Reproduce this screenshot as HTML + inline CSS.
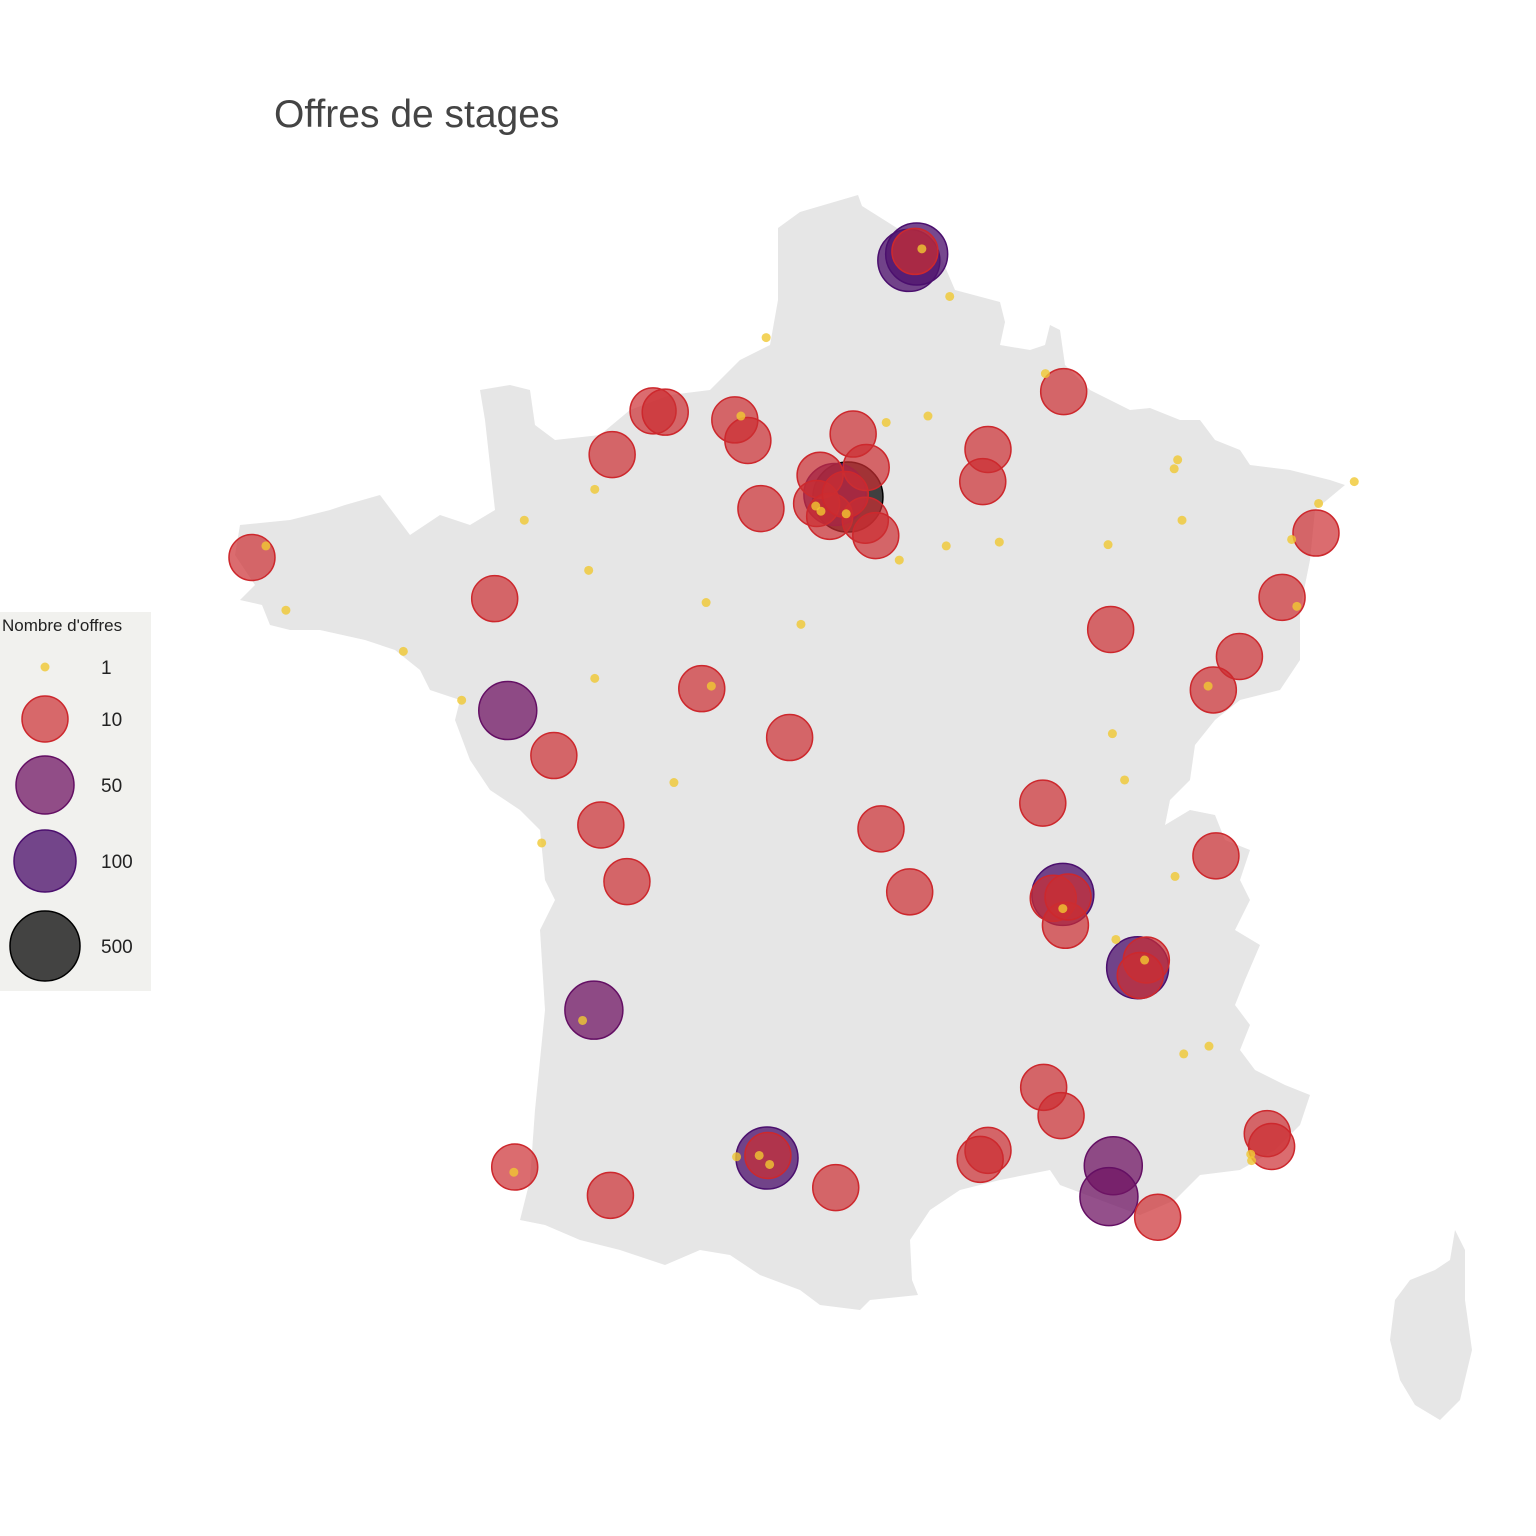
<!DOCTYPE html>
<html><head><meta charset="utf-8"><style>
html,body{margin:0;padding:0;background:#fff;}
svg{display:block;font-family:"Liberation Sans",sans-serif;}
</style></head><body>
<svg id="chart" width="1536" height="1536" viewBox="0 0 1536 1536">
<text x="274" y="127" font-size="39" fill="#444">Offres de stages</text>
<path fill="#e6e6e6" d="M778,228 L800,212 L858,195 L862,206 L900,230 L940,255 L955,290 L985,298 L1000,302 L1005,322 L1000,345 L1030,350 L1045,345 L1050,325 L1060,330 L1065,365 L1090,390 L1110,400 L1130,410 L1150,408 L1180,420 L1200,420 L1215,440 L1240,450 L1250,465 L1290,470 L1330,480 L1345,485 L1315,510 L1310,560 L1300,610 L1300,660 L1280,690 L1240,700 L1215,720 L1195,745 L1190,780 L1170,800 L1165,825 L1190,810 L1215,815 L1225,840 L1250,850 L1240,880 L1250,900 L1235,930 L1260,945 L1245,980 L1235,1005 L1250,1025 L1240,1050 L1255,1070 L1285,1085 L1310,1095 L1300,1125 L1275,1150 L1240,1170 L1200,1175 L1175,1200 L1140,1215 L1100,1200 L1060,1185 L1050,1170 L1000,1180 L960,1190 L930,1210 L910,1240 L912,1280 L918,1295 L870,1300 L860,1310 L820,1305 L800,1290 L760,1275 L730,1255 L700,1250 L665,1265 L620,1250 L580,1240 L545,1225 L520,1220 L530,1180 L535,1110 L545,1010 L540,930 L555,900 L545,880 L540,830 L520,810 L490,790 L470,760 L455,720 L460,700 L430,690 L420,670 L395,650 L365,640 L320,630 L290,630 L270,625 L262,605 L240,600 L255,585 L235,555 L240,525 L290,520 L330,510 L345,505 L380,495 L410,535 L440,515 L470,525 L495,510 L485,420 L480,390 L510,385 L530,390 L535,425 L555,440 L600,435 L630,410 L670,395 L710,390 L740,360 L770,345 L778,300 Z"/>
<path fill="#e6e6e6" d="M1455,1230 L1465,1250 L1465,1300 L1472,1350 L1460,1400 L1440,1420 L1415,1405 L1400,1380 L1390,1340 L1395,1300 L1410,1280 L1435,1270 L1450,1260 Z"/>
<g id="bubbles"></g>
<g id="legend">
<rect x="0" y="612" width="151" height="379" fill="#f1f1ee"/>
<text x="2" y="631" font-size="17" fill="#222">Nombre d'offres</text>
</g>
</svg>
<script>
const lon = [0.15,0.29,1.09,1.24,-0.32,2.45,2.60,2.07,1.39,2.03,2.18,2.59,2.71,2.36,4.00,3.94,4.87,-4.46,-1.67,7.77,7.38,5.41,6.89,6.59,0.71,1.72,-0.99,4.63,-0.45,2.77,-0.15,6.62,3.10,4.75,4.89,4.92,5.82,5.75,4.64,4.84,4.00,3.91,7.21,7.26,-1.44,-0.34,2.25,5.95,3.16,1.47,
 3.09,3.18,-1.52,-0.53,1.46,4.86,5.72,5.44,5.39,2.24,2.39,
 3.24,3.56,1.45,4.66,3.31,2.83,1.16,6.18,6.14,8.21,7.80,-0.52,-1.33,6.23,5.38,4.13,3.52,2.98,-4.30,7.49,-0.59,0.76,7.55,-4.07,1.85,-2.72,-0.52,0.82,6.53,-2.05,5.43,0.39,5.57,-1.13,6.15,4.86,5.47,5.80,-0.66,6.25,6.54,1.11,1.37,1.49,7.02,7.03,-1.45,2.02,2.08,2.37];
const lat = [49.38,49.37,49.31,49.15,49.04,49.20,48.94,48.88,48.62,48.66,48.56,48.53,48.41,48.73,49.08,48.83,49.53,48.24,47.92,48.43,47.93,47.68,47.47,47.21,47.22,46.84,46.70,46.33,46.16,46.13,45.72,45.92,45.64,45.59,45.38,45.60,45.11,44.99,44.12,43.90,43.63,43.56,43.76,43.66,43.50,43.28,43.34,43.11,50.62,43.59,
 50.55,50.60,47.05,44.72,43.57,45.62,45.05,43.51,43.27,48.73,48.71,
 50.64,50.27,49.95,49.67,49.34,49.29,49.34,49.00,48.93,48.83,48.66,48.77,48.53,48.53,48.34,48.36,48.33,48.22,48.33,48.38,48.14,47.89,47.86,47.83,47.72,47.51,47.30,47.24,47.24,47.13,46.87,46.49,46.51,46.02,45.76,45.51,45.27,45.11,44.64,44.38,44.44,43.58,43.59,43.52,43.60,43.55,43.46,48.64,48.60,48.58];
const offers = [10,10,10,10,10,10,10,10,10,10,10,10,10,10,10,10,10,10,10,10,10,10,10,10,10,10,10,10,10,10,10,10,10,10,10,10,10,10,10,10,10,10,10,10,10,10,10,10,10,10,
 100,100,50,50,100,100,100,50,50,100,500,
 1,1,1,1,1,1,1,1,1,1,1,1,1,1,1,1,1,1,1,1,1,1,1,1,1,1,1,1,1,1,1,1,1,1,1,1,1,1,1,1,1,1,1,1,1,1,1,1,1,1];
const legendValues = [1,10,50,100,500];
const legendLabels = ["1","10","50","100","500"];

const NS = "http://www.w3.org/2000/svg";
function xScale(lo){ return 640 + 87*lo; }
function yScale(la){ return 254 + 128.6*(50.6 - la); }
function rScale(v){
  const b=[1,10,50,100,500], r=[4.5,23,29,31,35];
  if(v<=1) return r[0];
  for(let i=1;i<b.length;i++){ if(v<=b[i]){ const t=(v-b[i-1])/(b[i]-b[i-1]); return r[i-1]+t*(r[i]-r[i-1]); } }
  return r[4];
}
function style(v){
  if(v<5) return {fill:"rgb(240,200,50)",stroke:"rgb(240,200,50)",op:0.8};
  if(v<30) return {fill:"rgb(204,45,50)",stroke:"rgb(205,40,45)",op:0.7};
  if(v<75) return {fill:"rgb(112,22,100)",stroke:"rgb(100,15,100)",op:0.75};
  if(v<300) return {fill:"rgb(80,20,110)",stroke:"rgb(75,15,110)",op:0.78};
  return {fill:"rgb(0,0,0)",stroke:"rgb(0,0,0)",op:0.72};
}
const g = document.getElementById("bubbles");
const idx = offers.map((v,i)=>i).sort((a,b)=>{
  const sa=offers[a], sb=offers[b];
  if(sa===1 && sb!==1) return 1;
  if(sb===1 && sa!==1) return -1;
  return sb-sa;
});
idx.forEach(i=>{
  const c=document.createElementNS(NS,"circle");
  const s=style(offers[i]);
  c.setAttribute("cx",xScale(lon[i]));
  c.setAttribute("cy",yScale(lat[i]));
  c.setAttribute("r",rScale(offers[i]));
  c.setAttribute("fill",s.fill);
  c.setAttribute("fill-opacity",s.op);
  c.setAttribute("stroke",s.stroke);
  c.setAttribute("stroke-width",offers[i]===1?0:1.5);
  
  
  g.appendChild(c);
});
const lg=document.getElementById("legend");
const ly=[667,719,785,861,946];
legendValues.forEach((v,i)=>{
  const s=style(v);
  const c=document.createElementNS(NS,"circle");
  c.setAttribute("cx",45); c.setAttribute("cy",ly[i]); c.setAttribute("r",rScale(v));
  c.setAttribute("fill",s.fill); c.setAttribute("fill-opacity",s.op);
  c.setAttribute("stroke",s.stroke); c.setAttribute("stroke-width",v===1?0:1.5);
  
  
  lg.appendChild(c);
  const t=document.createElementNS(NS,"text");
  t.setAttribute("x",101); t.setAttribute("y",ly[i]+7); t.setAttribute("font-size",19); t.setAttribute("fill","#222");
  t.textContent=legendLabels[i];
  
  
  lg.appendChild(t);
});
</script>
</body></html>
